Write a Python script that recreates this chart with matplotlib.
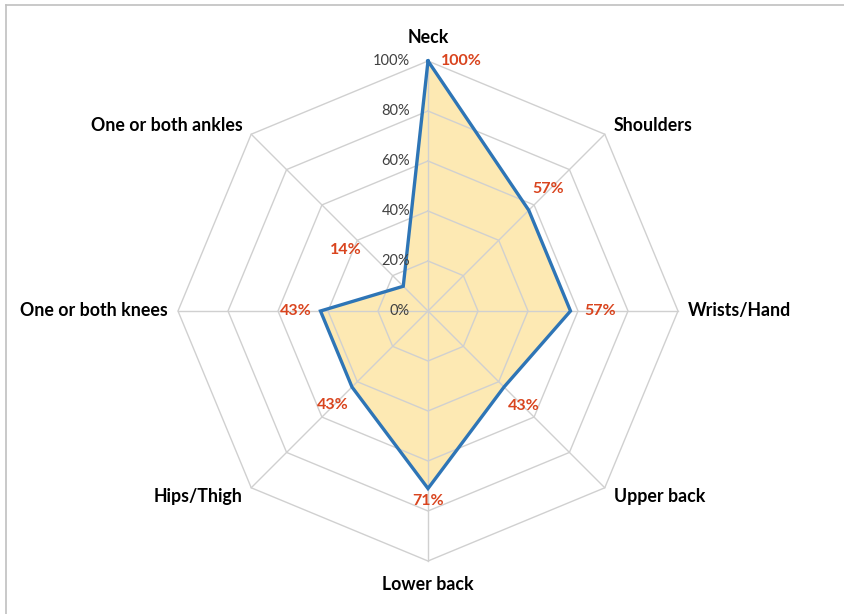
import numpy as np
import matplotlib
matplotlib.use("Agg")
from matplotlib import pyplot as plt
from matplotlib.lines import Line2D

# data
categories = ["Neck", "Shoulders", "Wrists/Hand", "Upper back", "Lower back",
              "Hips/Thigh", "One or both knees", "One or both ankles"]
values = [100, 57, 57, 43, 71, 43, 43, 14]
ticks = [0, 20, 40, 60, 80, 100]
tick_labels = ["0%", "20%", "40%", "60%", "80%", "100%"]

# offsets (points) of the red value labels from their data point
val_offsets = [(24, 0), (14, 15), (21, 0), (14, -14), (0, -9), (-14, -13), (-18, 0), (-41, 26)]

plt.rcParams['font.family'] = ['Lato', 'DejaVu Sans']

fig = plt.figure(figsize=(8.45, 6.14), dpi=100)
# frame lines top / left
fig.add_artist(Line2D([6/845, 1], [1-5/614, 1-5/614], transform=fig.transFigure, color="#c0c0c0", lw=1.2))
fig.add_artist(Line2D([6/845, 6/845], [0, 1-5/614], transform=fig.transFigure, color="#c0c0c0", lw=1.2))

cx, cy, R, half = 428, 311, 250, 300
ax = fig.add_axes([(cx-half)/845, (614-cy-half)/614, 2*half/845, 2*half/614])
lim = half / R * 100
ax.set_xlim(-lim, lim)
ax.set_ylim(-lim, lim)
ax.set_aspect("equal")
ax.axis("off")

n = len(categories)
ang = np.pi/2 - np.arange(n) * 2*np.pi/n
ca, sa = np.cos(ang), np.sin(ang)

# grid
grid_c = "#d0d0d0"
for t in ticks[1:]:
    ax.plot(np.append(t*ca, t*ca[0]), np.append(t*sa, t*sa[0]), color=grid_c, lw=1, zorder=3)
for i in range(n):
    ax.plot([0, 100*ca[i]], [0, 100*sa[i]], color=grid_c, lw=1, zorder=3)

# data
v = np.array(values, dtype=float)
xs, ys = v*ca, v*sa
ax.fill(xs, ys, color="#fde9b3", zorder=2, lw=0)
ax.plot(np.append(xs, xs[0]), np.append(ys, ys[0]), color="#2e75b6", lw=2.4, zorder=4,
        solid_joinstyle="miter")

# tick labels
for t, lab in zip(ticks, tick_labels):
    ax.annotate(lab, (0, t), xytext=(-13, 0), textcoords="offset points",
                ha="right", va="center", fontsize=10.5, color="#404040", zorder=5)

# category labels
for i, c in enumerate(categories):
    if abs(ca[i]) < 1e-6:
        r = 106
        ha = "center"
        va = "bottom" if sa[i] > 0 else "top"
    elif abs(sa[i]) < 1e-6:
        r = 104
        ha = "left" if ca[i] > 0 else "right"
        va = "center"
    else:
        r = 105
        ha = "left" if ca[i] > 0 else "right"
        va = "center"
    ax.text(r*ca[i], r*sa[i], c, ha=ha, va=va, fontsize=12.8, fontweight="bold", color="black")

# value labels
for i, val in enumerate(values):
    ax.annotate(f"{val}%", (xs[i], ys[i]), xytext=val_offsets[i], textcoords="offset points",
                ha="center", va="center", fontsize=11.5, fontweight="bold", color="#d9441e", zorder=6)

fig.savefig("out.png", dpi=100)
